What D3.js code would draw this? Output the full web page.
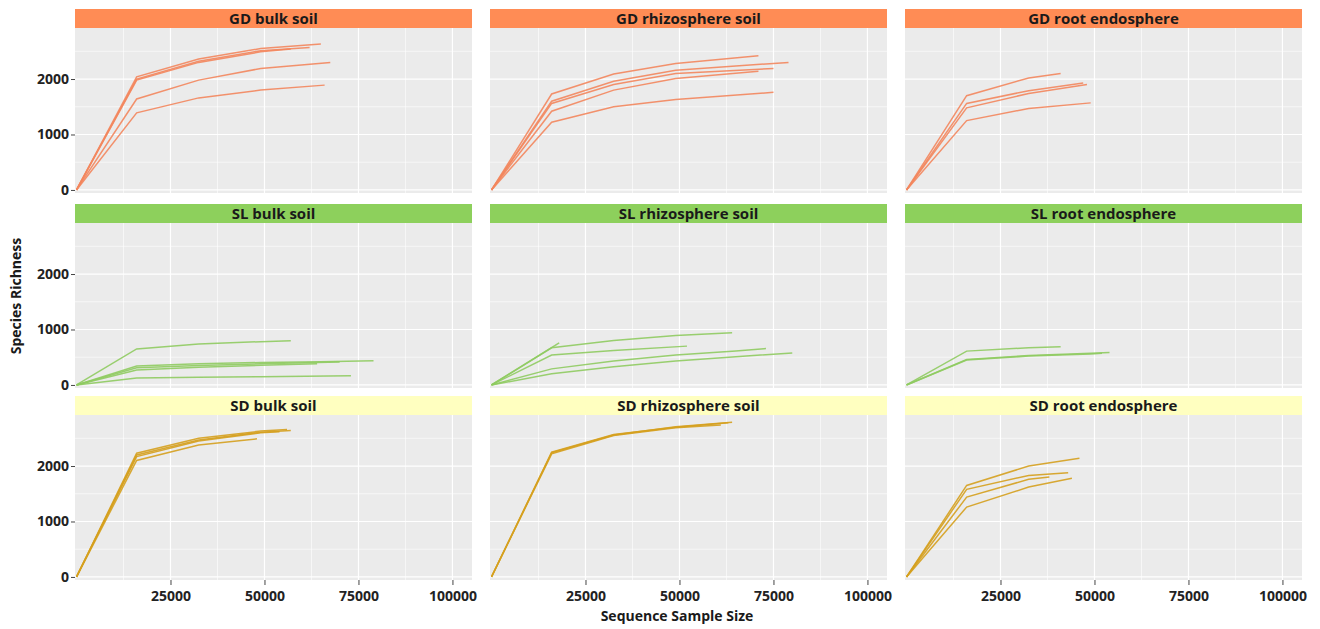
<html>
	<head>
		<title>Rarefaction curves</title>
		<style>
			body { margin: 0; background: #ffffff; }
			text { font-family: "Open Sans", "DejaVu Sans", sans-serif; }
		</style>
	</head>
	<body>

		<div id="chart"></div>

		<script src="https://cdn.jsdelivr.net/npm/d3@7"></script>
		<script>
			(function(){
				"use strict";

				// Facet labels
				var sites = ["GD", "SL", "SD"];
				var compartments = ["bulk soil", "rhizosphere soil", "root endosphere"];

				// Curves per facet: [sequence sample size, species richness]
				var gdBulk = [
					[[0,0],[16000,2000],[32500,2320],[49000,2510],[62000,2570]],
					[[0,0],[16000,2040],[32500,2360],[49000,2550],[65000,2630]],
					[[0,0],[16000,1980],[32500,2300],[49000,2490],[57000,2540]],
					[[0,0],[16000,1640],[32500,1980],[49000,2190],[67500,2300]],
					[[0,0],[16000,1390],[32500,1660],[49000,1800],[66000,1890]]
				];
				var gdRhizo = [
					[[0,0],[16000,1730],[32500,2090],[49000,2280],[71000,2420]],
					[[0,0],[16000,1600],[32500,1960],[49000,2160],[79000,2300]],
					[[0,0],[16000,1560],[32500,1900],[49000,2100],[75000,2190]],
					[[0,0],[16000,1420],[32500,1800],[49000,2010],[71000,2140]],
					[[0,0],[16000,1220],[32500,1500],[49000,1630],[75000,1760]]
				];
				var gdRoot = [
					[[0,0],[16000,1700],[32500,2020],[41000,2100]],
					[[0,0],[16000,1560],[32500,1790],[47000,1930]],
					[[0,0],[16000,1480],[32500,1740],[48000,1900]],
					[[0,0],[16000,1250],[32500,1470],[49000,1570]]
				];
				var slBulk = [
					[[0,0],[16000,650],[32500,740],[49000,780],[57000,795]],
					[[0,0],[16000,340],[32500,380],[49000,405],[65000,420],[79000,435]],
					[[0,0],[16000,310],[32500,350],[49000,380],[70000,415]],
					[[0,0],[16000,270],[32500,320],[49000,355],[64000,380]],
					[[0,0],[16000,125],[32500,140],[49000,150],[73000,165]]
				];
				var slRhizo = [
					[[0,0],[18000,760]],
					[[0,0],[16000,670],[32500,800],[49000,890],[64000,940]],
					[[0,0],[16000,540],[32500,620],[52000,700]],
					[[0,0],[16000,290],[32500,430],[49000,540],[65000,610],[73000,655]],
					[[0,0],[16000,200],[32500,330],[49000,430],[65000,510],[80000,575]]
				];
				var slRoot = [
					[[0,0],[16000,610],[32500,670],[41000,690]],
					[[0,0],[16000,460],[32500,530],[49000,570],[54000,585]],
					[[0,0],[16000,450],[32500,520],[49000,560],[52000,570]]
				];
				var sdBulk = [
					[[0,0],[16000,2230],[32500,2500],[49000,2630],[56000,2660]],
					[[0,0],[16000,2200],[32500,2470],[49000,2610],[57000,2640]],
					[[0,0],[16000,2170],[32500,2450],[49000,2600],[54000,2620]],
					[[0,0],[16000,2100],[32500,2380],[48000,2490]]
				];
				var sdRhizo = [
					[[0,0],[16000,2250],[32500,2570],[49000,2700],[63000,2780]],
					[[0,0],[16000,2220],[32500,2550],[49000,2690],[61000,2740]],
					[[0,0],[16000,2240],[32500,2560],[49000,2710],[64000,2790]]
				];
				var sdRoot = [
					[[0,0],[16000,1650],[32500,2000],[46000,2140]],
					[[0,0],[16000,1580],[32500,1830],[43000,1880]],
					[[0,0],[16000,1440],[32500,1760],[38000,1800]],
					[[0,0],[16000,1260],[32500,1620],[44000,1780]]
				];
				var facetData = [
					[gdBulk, gdRhizo, gdRoot],
					[slBulk, slRhizo, slRoot],
					[sdBulk, sdRhizo, sdRoot]
				];

				// Tick values
				var xTicks = [25000, 50000, 75000, 100000];
				var xMinor = [12500, 37500, 62500, 87500];
				var yTicks = [0, 1000, 2000];
				var yMinor = [500, 1500, 2500];

				// Colours per site
				var stripColors = ["#FF8C55", "#8DD05C", "#FFFFC0"];
				var lineColors = ["#F3865D", "#8FCB60", "#D5A01E"];

				// Layout
				var width = 1320, height = 629;
				var colLeft = [75, 490, 905];
				var rowTop = [9, 204, 396];
				var panelW = 397, panelH = 165, stripH = 19;

				var x = d3.scaleLinear()
							.domain([-400, 105200])
							.range([0, panelW]);

				var y = d3.scaleLinear()
							.domain([-55, 2920])
							.range([panelH, 0]);

				var line = d3.line()
							.x(function(d){ return x(d[0]); })
							.y(function(d){ return y(d[1]); });

				var svg = d3.select("#chart")
								.append("svg")
									.attr("width", width)
									.attr("height", height);

				sites.forEach(function(site, r){
					compartments.forEach(function(comp, c){
						var g = svg.append("g")
									.attr("transform", "translate(" + colLeft[c] + "," + rowTop[r] + ")");

						// strip
						g.append("rect")
							.attr("width", panelW)
							.attr("height", stripH)
							.style("fill", stripColors[r]);
						g.append("text")
							.attr("x", panelW / 2)
							.attr("y", stripH / 2)
							.attr("dy", "0.35em")
							.attr("text-anchor", "middle")
							.style("font-size", "15px")
							.style("font-weight", "bold")
							.style("fill", "#1a1a1a")
							.text(site + " " + comp);

						var p = g.append("g")
									.attr("transform", "translate(0," + stripH + ")");

						p.append("rect")
							.attr("width", panelW)
							.attr("height", panelH)
							.style("fill", "#EBEBEB");

						// minor grid
						p.selectAll(".vminor").data(xMinor).enter().append("line")
							.attr("x1", x).attr("x2", x)
							.attr("y1", 0).attr("y2", panelH)
							.style("stroke", "#fff").style("stroke-width", 0.6);
						p.selectAll(".hminor").data(yMinor).enter().append("line")
							.attr("x1", 0).attr("x2", panelW)
							.attr("y1", y).attr("y2", y)
							.style("stroke", "#fff").style("stroke-width", 0.6);
						// major grid
						p.selectAll(".vmajor").data(xTicks).enter().append("line")
							.attr("x1", x).attr("x2", x)
							.attr("y1", 0).attr("y2", panelH)
							.style("stroke", "#fff").style("stroke-width", 1.2);
						p.selectAll(".hmajor").data(yTicks).enter().append("line")
							.attr("x1", 0).attr("x2", panelW)
							.attr("y1", y).attr("y2", y)
							.style("stroke", "#fff").style("stroke-width", 1.2);

						// curves
						p.selectAll(".curve").data(facetData[r][c]).enter().append("path")
							.attr("d", line)
							.style("fill", "none")
							.style("stroke", lineColors[r])
							.style("stroke-width", 1.5)
							.style("stroke-opacity", 0.9);

						// y axis on first column
						if (c === 0) {
							var yAxis = d3.axisLeft(y)
											.tickValues(yTicks)
											.tickSize(4)
											.tickPadding(2)
											.tickFormat(d3.format("d"));
							var yg = p.append("g").call(yAxis);
							yg.select(".domain").remove();
							yg.selectAll("line").style("stroke", "#444");
							yg.selectAll("text")
								.style("font-size", "14px")
								.style("font-weight", "bold")
								.style("fill", "#222")
								.style("font-family", "'Open Sans', sans-serif");
						}

						// x axis on last row
						if (r === 2) {
							var xAxis = d3.axisBottom(x)
											.tickValues(xTicks)
											.tickSize(5)
											.tickPadding(6)
											.tickFormat(d3.format("d"));
							var xg = p.append("g")
										.attr("transform", "translate(0," + panelH + ")")
										.call(xAxis);
							xg.select(".domain").remove();
							xg.selectAll("line").style("stroke", "#444");
							xg.selectAll("text")
								.style("font-size", "14px")
								.style("font-weight", "bold")
								.style("fill", "#222")
								.style("font-family", "'Open Sans', sans-serif");
						}
					});
				});

				// axis titles
				svg.append("text")
					.attr("x", 677)
					.attr("y", 621)
					.attr("text-anchor", "middle")
					.style("font-size", "14px")
					.style("font-weight", "bold")
					.style("fill", "#1a1a1a")
					.text("Sequence Sample Size");

				svg.append("text")
					.attr("transform", "translate(21," + 296 + ") rotate(-90)")
					.attr("text-anchor", "middle")
					.style("font-size", "14px")
					.style("font-weight", "bold")
					.style("fill", "#1a1a1a")
					.text("Species Richness");

			})();
		</script>

	</body>
</html>
